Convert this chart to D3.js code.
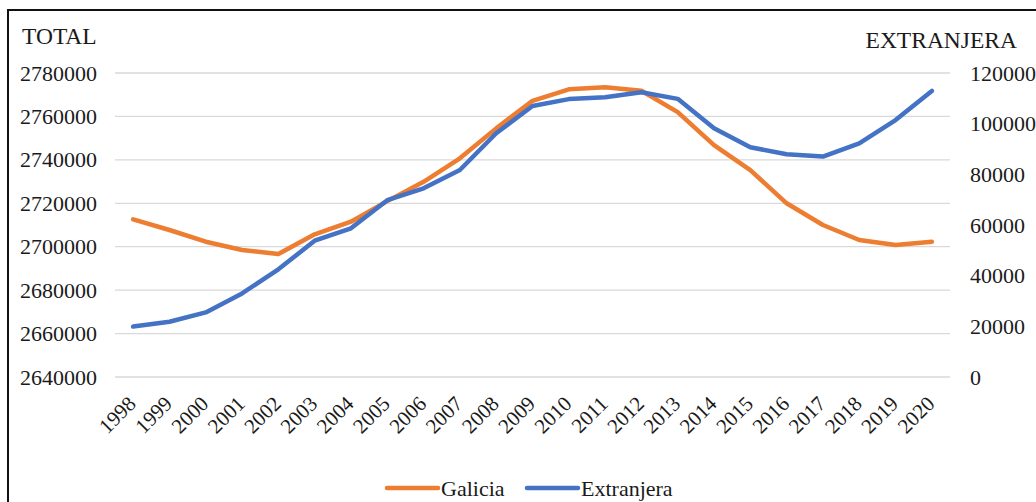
<!DOCTYPE html>
<html>
<head>
<meta charset="utf-8">
<script src="https://cdnjs.cloudflare.com/ajax/libs/d3/7.8.5/d3.min.js"></script>
<style>
  body { margin: 0; background: #fff; }
  svg text { font-family: "Liberation Serif", "Times New Roman", serif; fill: #1a1a1a; }
</style>
</head>
<body>
<div id="chart"></div>
<script>
// data
var years = ['1998', '1999', '2000', '2001', '2002', '2003', '2004', '2005', '2006', '2007', '2008',
  '2009', '2010', '2011', '2012', '2013', '2014', '2015', '2016', '2017', '2018', '2019', '2020'];

var galicia = [2712600, 2707700, 2702300, 2698500, 2696600, 2705700, 2711500, 2721000, 2729900,
  2740700, 2754500, 2767200, 2772500, 2773400, 2771800, 2762000, 2746800, 2735300, 2720000,
  2710000, 2703100, 2700800, 2702300];

var extranjera = [19900, 21800, 25500, 33000, 42500, 53800, 58700, 69800, 74500, 81700, 96200,
  107000, 109700, 110400, 112400, 109800, 98200, 90700, 87900, 87000, 92200, 101400, 112900];

var leftTicks = [2640000, 2660000, 2680000, 2700000, 2720000, 2740000, 2760000, 2780000];
var rightTicks = [0, 20000, 40000, 60000, 80000, 100000, 120000];

var width = 1036, height = 502;
var plot = { left: 115, right: 950, top: 73, bottom: 377 };

var svg = d3.select('#chart').append('svg')
  .attr('width', width)
  .attr('height', height);

// outer frame (runs off the right and bottom edge, as in the picture)
svg.append('rect')
  .attr('x', 8).attr('y', 10)
  .attr('width', 1100).attr('height', 600)
  .attr('fill', 'none')
  .attr('stroke', '#111')
  .attr('stroke-width', 2);

var x = d3.scaleBand().domain(years).range([plot.left, plot.right]);
var yL = d3.scaleLinear().domain([2640000, 2780000]).range([plot.bottom, plot.top]);
var yR = d3.scaleLinear().domain([0, 120000]).range([plot.bottom, plot.top]);

// gridlines
svg.append('g').selectAll('line')
  .data(leftTicks)
  .enter().append('line')
  .attr('x1', plot.left).attr('x2', plot.right)
  .attr('y1', d => yL(d)).attr('y2', d => yL(d))
  .attr('stroke', '#d9d9d9')
  .attr('stroke-width', 1.3);

// left axis
var leftAxis = d3.axisLeft(yL).tickValues(leftTicks).tickSize(0).tickPadding(18)
  .tickFormat(d3.format('d'));
svg.append('g')
  .attr('transform', 'translate(' + plot.left + ',0)')
  .call(leftAxis)
  .call(g => g.select('.domain').remove())
  .selectAll('text')
  .style('font-size', '22px')
  .style('font-family', '"Liberation Serif", serif')
  .attr('fill', '#1a1a1a');

// right axis
var rightAxis = d3.axisRight(yR).tickValues(rightTicks).tickSize(0).tickPadding(20)
  .tickFormat(d3.format('d'));
svg.append('g')
  .attr('transform', 'translate(' + plot.right + ',0)')
  .call(rightAxis)
  .call(g => g.select('.domain').remove())
  .selectAll('text')
  .style('font-size', '22px')
  .style('font-family', '"Liberation Serif", serif')
  .attr('fill', '#1a1a1a');

// category labels, slanted
svg.append('g').selectAll('text')
  .data(years)
  .enter().append('text')
  .attr('transform', d => 'translate(' + (x(d) + x.bandwidth() / 2 + 4) + ',405) rotate(-45)')
  .attr('text-anchor', 'end')
  .style('font-size', '21px')
  .text(d => d);

// axis titles
svg.append('text')
  .attr('x', 22).attr('y', 44)
  .style('font-size', '23.5px')
  .text('TOTAL');
svg.append('text')
  .attr('x', 1017).attr('y', 48)
  .attr('text-anchor', 'end')
  .style('font-size', '23.5px')
  .text('EXTRANJERA');

// series
var lineL = d3.line()
  .x((d, i) => x(years[i]) + x.bandwidth() / 2)
  .y(d => yL(d));
var lineR = d3.line()
  .x((d, i) => x(years[i]) + x.bandwidth() / 2)
  .y(d => yR(d));

svg.append('path')
  .datum(galicia)
  .attr('d', lineL)
  .attr('fill', 'none')
  .attr('stroke', '#ed7d31')
  .attr('stroke-width', 4.5)
  .attr('stroke-linejoin', 'round')
  .attr('stroke-linecap', 'round');

svg.append('path')
  .datum(extranjera)
  .attr('d', lineR)
  .attr('fill', 'none')
  .attr('stroke', '#4472c4')
  .attr('stroke-width', 4.5)
  .attr('stroke-linejoin', 'round')
  .attr('stroke-linecap', 'round');

// legend
var legendItems = [
  { name: 'Galicia', color: '#ed7d31', x: 387 },
  { name: 'Extranjera', color: '#4472c4', x: 527 }
];
var lg = svg.append('g').selectAll('g')
  .data(legendItems)
  .enter().append('g')
  .attr('transform', d => 'translate(' + d.x + ',488)');
lg.append('line')
  .attr('x1', 0).attr('x2', 51)
  .attr('y1', 0).attr('y2', 0)
  .attr('stroke', d => d.color)
  .attr('stroke-width', 4.5)
  .attr('stroke-linecap', 'round');
lg.append('text')
  .attr('x', 54).attr('y', 8)
  .style('font-size', '22px')
  .text(d => d.name);
</script>
</body>
</html>
